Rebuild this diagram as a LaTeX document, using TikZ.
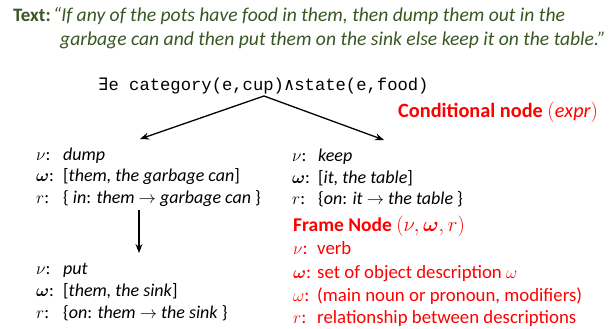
\documentclass[tikz,border=0pt]{standalone}
\usepackage{fontspec}
\usepackage{amsmath,bm}
\setmainfont{Carlito}
\newfontfamily\codefont{Liberation Mono}
\newfontfamily\logicfont{DejaVu Sans Mono}
\usetikzlibrary{arrows.meta}
\definecolor{textgreen}{RGB}{56,87,35}
\definecolor{notered}{RGB}{255,0,0}

\tikzset{
  txt/.style={anchor=base west, inner sep=0pt, font=\fontsize{18}{22}\selectfont},
  boldtxt/.style={txt, font=\bfseries\fontsize{18}{22}\selectfont},
  titletxt/.style={txt, text=textgreen, font=\fontsize{19.6}{23}\selectfont},
  codetxt/.style={anchor=base west, inner sep=0pt, font=\codefont\fontsize{17.2}{20}\selectfont},
  notetxt/.style={txt, text=notered, font=\fontsize{18.8}{22}\selectfont},
  notehead/.style={txt, text=notered, font=\bfseries\fontsize{19.5}{23}\selectfont},
  link/.style={line width=1.3pt, -{Stealth[length=9pt,width=7pt]}}
}

\begin{document}
\begin{tikzpicture}[x=1pt,y=-1pt]
\useasboundingbox (0,0) rectangle (613,329);

% sentence being parsed
\node[titletxt, font=\bfseries\fontsize{19}{23}\selectfont] (tlabel) at (13,22) {Text:};
\node[titletxt] (tline1) at (53,22) {\itshape “If any of the pots have food in them, then dump them out in the};
\node[titletxt] (tline2) at (60,46) {\itshape garbage can and then put them on the sink else keep it on the table.”};

% conditional node
\node[codetxt] (cond) at (98,91) {{\logicfont ∃}e category(e,cup){\logicfont ∧}state(e,food)};
\node[notehead, font=\bfseries\fontsize{20.3}{24}\selectfont] (condlabel) at (398,117) {Conditional node $(\mathit{expr})$};
\coordinate (apex) at (264,96);
\coordinate (lefttip) at (140,139);
\coordinate (righttip) at (384,140);
\draw[link] (apex) -- (lefttip);
\draw[link] (apex) -- (righttip);

% frame: dump
\node[txt] (dumpv) at (36,160) {$\nu$:};
\node[txt] (dumpvt) at (63,160) {\itshape dump};
\node[txt] (dumpw) at (36,181) {$\boldsymbol{\omega}$:};
\node[txt] (dumpwt) at (63,181) {[\textit{them, the garbage can}]};
\node[txt] (dumpr) at (36,203) {$r$:};
\node[txt] (dumprt) at (63,203) {\{ \textit{in}: \textit{them} $\to$ \textit{garbage can} \}};

\coordinate (downtop) at (139,210);
\coordinate (downtip) at (139,253);
\draw[link] (downtop) -- (downtip);

% frame: put
\node[txt] (putv) at (36,274) {$\nu$:};
\node[txt] (putvt) at (63,274) {\itshape put};
\node[txt] (putw) at (36,296) {$\boldsymbol{\omega}$:};
\node[txt] (putwt) at (63,296) {[\textit{them, the sink}]};
\node[txt] (putr) at (36,318) {$r$:};
\node[txt] (putrt) at (63,318) {\{\textit{on}: \textit{them} $\to$ \textit{the sink} \}};

% frame: keep
\node[txt] (keepv) at (292,161) {$\nu$:};
\node[txt] (keepvt) at (318,161) {\itshape keep};
\node[txt] (keepw) at (292,183) {$\boldsymbol{\omega}$:};
\node[txt] (keepwt) at (318,183) {[\textit{it, the table}]};
\node[txt] (keepr) at (292,204) {$r$:};
\node[txt] (keeprt) at (318,204) {\{\textit{on}: \textit{it} $\to$ \textit{the table} \}};

% legend
\node[notehead] (legtitle) at (293,231) {Frame Node $(\nu,\boldsymbol{\omega},r)$};
\node[notetxt] (legv) at (293,254) {$\nu$:};
\node[notetxt] (legvt) at (317,254) {verb};
\node[notetxt] (legw) at (293,278) {$\boldsymbol{\omega}$:};
\node[notetxt] (legwt) at (317,278) {set of object description $\omega$};
\node[notetxt] (lego) at (293,301) {$\omega$:};
\node[notetxt] (legot) at (317,301) {(main noun or pronoun, modifiers)};
\node[notetxt] (legr) at (293,323) {$r$:};
\node[notetxt] (legrt) at (317,323) {relationship between descriptions};
\end{tikzpicture}
\end{document}
